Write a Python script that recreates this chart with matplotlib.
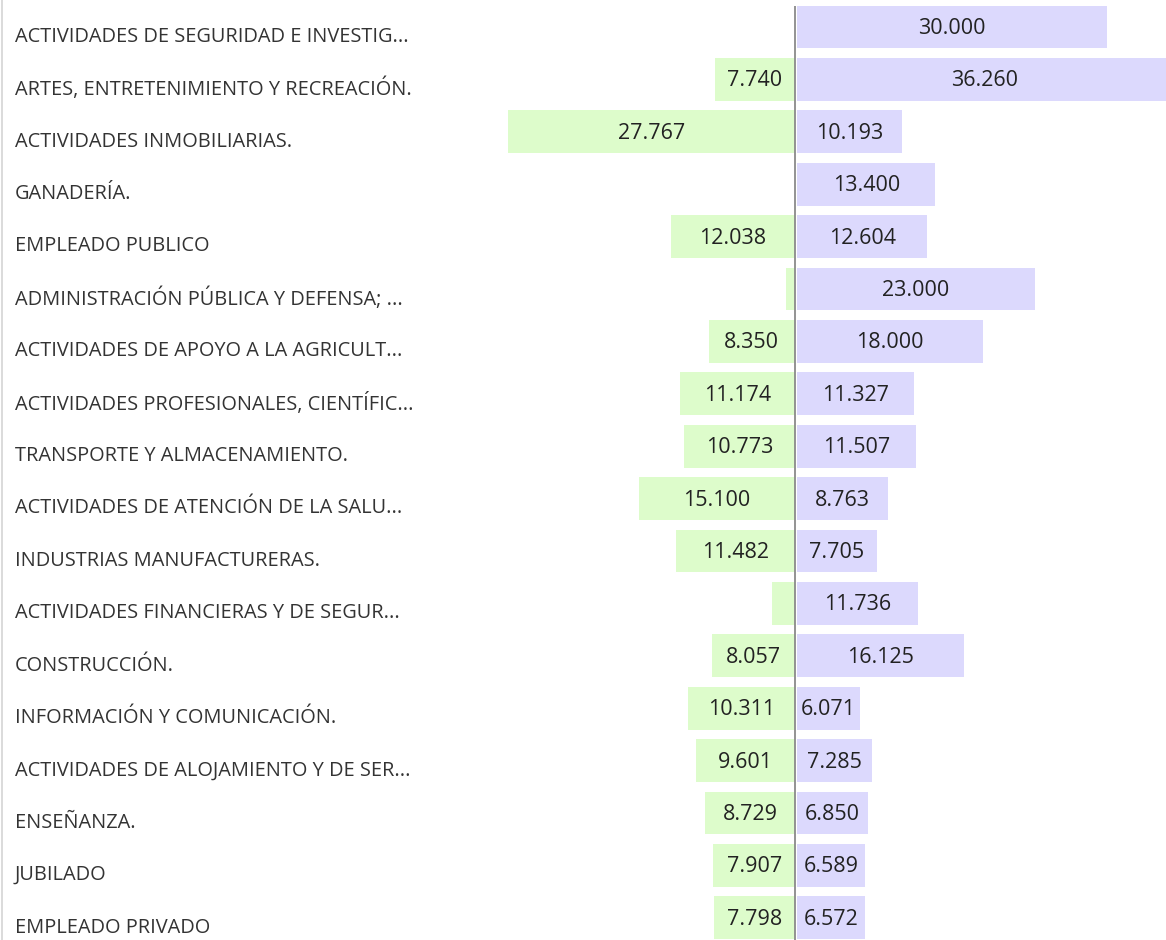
import matplotlib.pyplot as plt
from matplotlib.lines import Line2D

categories = [
    "ACTIVIDADES DE SEGURIDAD E INVESTIG...",
    "ARTES, ENTRETENIMIENTO Y RECREACIÓN.",
    "ACTIVIDADES INMOBILIARIAS.",
    "GANADERÍA.",
    "EMPLEADO PUBLICO",
    "ADMINISTRACIÓN PÚBLICA Y DEFENSA; ...",
    "ACTIVIDADES DE APOYO A LA AGRICULT...",
    "ACTIVIDADES PROFESIONALES, CIENTÍFIC...",
    "TRANSPORTE Y ALMACENAMIENTO.",
    "ACTIVIDADES DE ATENCIÓN DE LA SALU...",
    "INDUSTRIAS MANUFACTURERAS.",
    "ACTIVIDADES FINANCIERAS Y DE SEGUR...",
    "CONSTRUCCIÓN.",
    "INFORMACIÓN Y COMUNICACIÓN.",
    "ACTIVIDADES DE ALOJAMIENTO Y DE SER...",
    "ENSEÑANZA.",
    "JUBILADO",
    "EMPLEADO PRIVADO",
]
left_vals = [0, 7740, 27767, 0, 12038, 900, 8350, 11174, 10773, 15100,
             11482, 2200, 8057, 10311, 9601, 8729, 7907, 7798]
right_vals = [30000, 36260, 10193, 13400, 12604, 23000, 18000, 11327, 11507,
              8763, 7705, 11736, 16125, 6071, 7285, 6850, 6589, 6572]

green = "#ddfccb"
lavender = "#dcd9fd"

plt.rcParams['font.family'] = ['Open Sans', 'DejaVu Sans']

fig = plt.figure(figsize=(11.66, 9.4), dpi=100)
ax = fig.add_axes([0, 0, 1, 1])

px = 10.33 / 1000  # px per unit
ax.set_xlim(-795 / px, (1166 - 795) / px)
ax.set_ylim((940 - 27) / 52.4, -27 / 52.4)

y = list(range(len(categories)))
h = 0.82
ax.barh(y, [-v for v in left_vals], height=h, color=green)
ax.barh(y, right_vals, height=h, left=200, color=lavender)

def fmt(v):
    return f"{v:,}".replace(",", ".")

for i in y:
    if left_vals[i] >= 4000:
        ax.text(-left_vals[i] / 2, i + 0.03, fmt(left_vals[i]), ha="center", va="center",
                fontsize=15.5, color="#222222")
    if right_vals[i] >= 4000:
        ax.text(200 + right_vals[i] / 2, i + 0.03, fmt(right_vals[i]), ha="center", va="center",
                fontsize=15.5, color="#222222")
    ax.annotate(categories[i], xy=(15 / 1166, i), xycoords=("axes fraction", "data"),
                xytext=(0, -7), textcoords="offset points", ha="left", va="center",
                fontsize=14.4, color="#333333")

ax.vlines(0, -0.41, len(categories), color="#8a8a8a", linewidth=1.3)
fig.add_artist(Line2D([1.5 / 1166, 1.5 / 1166], [0, 1], color="#d4d4d4", linewidth=1.2))

ax.axis("off")
fig.savefig("out.png", dpi=100)
